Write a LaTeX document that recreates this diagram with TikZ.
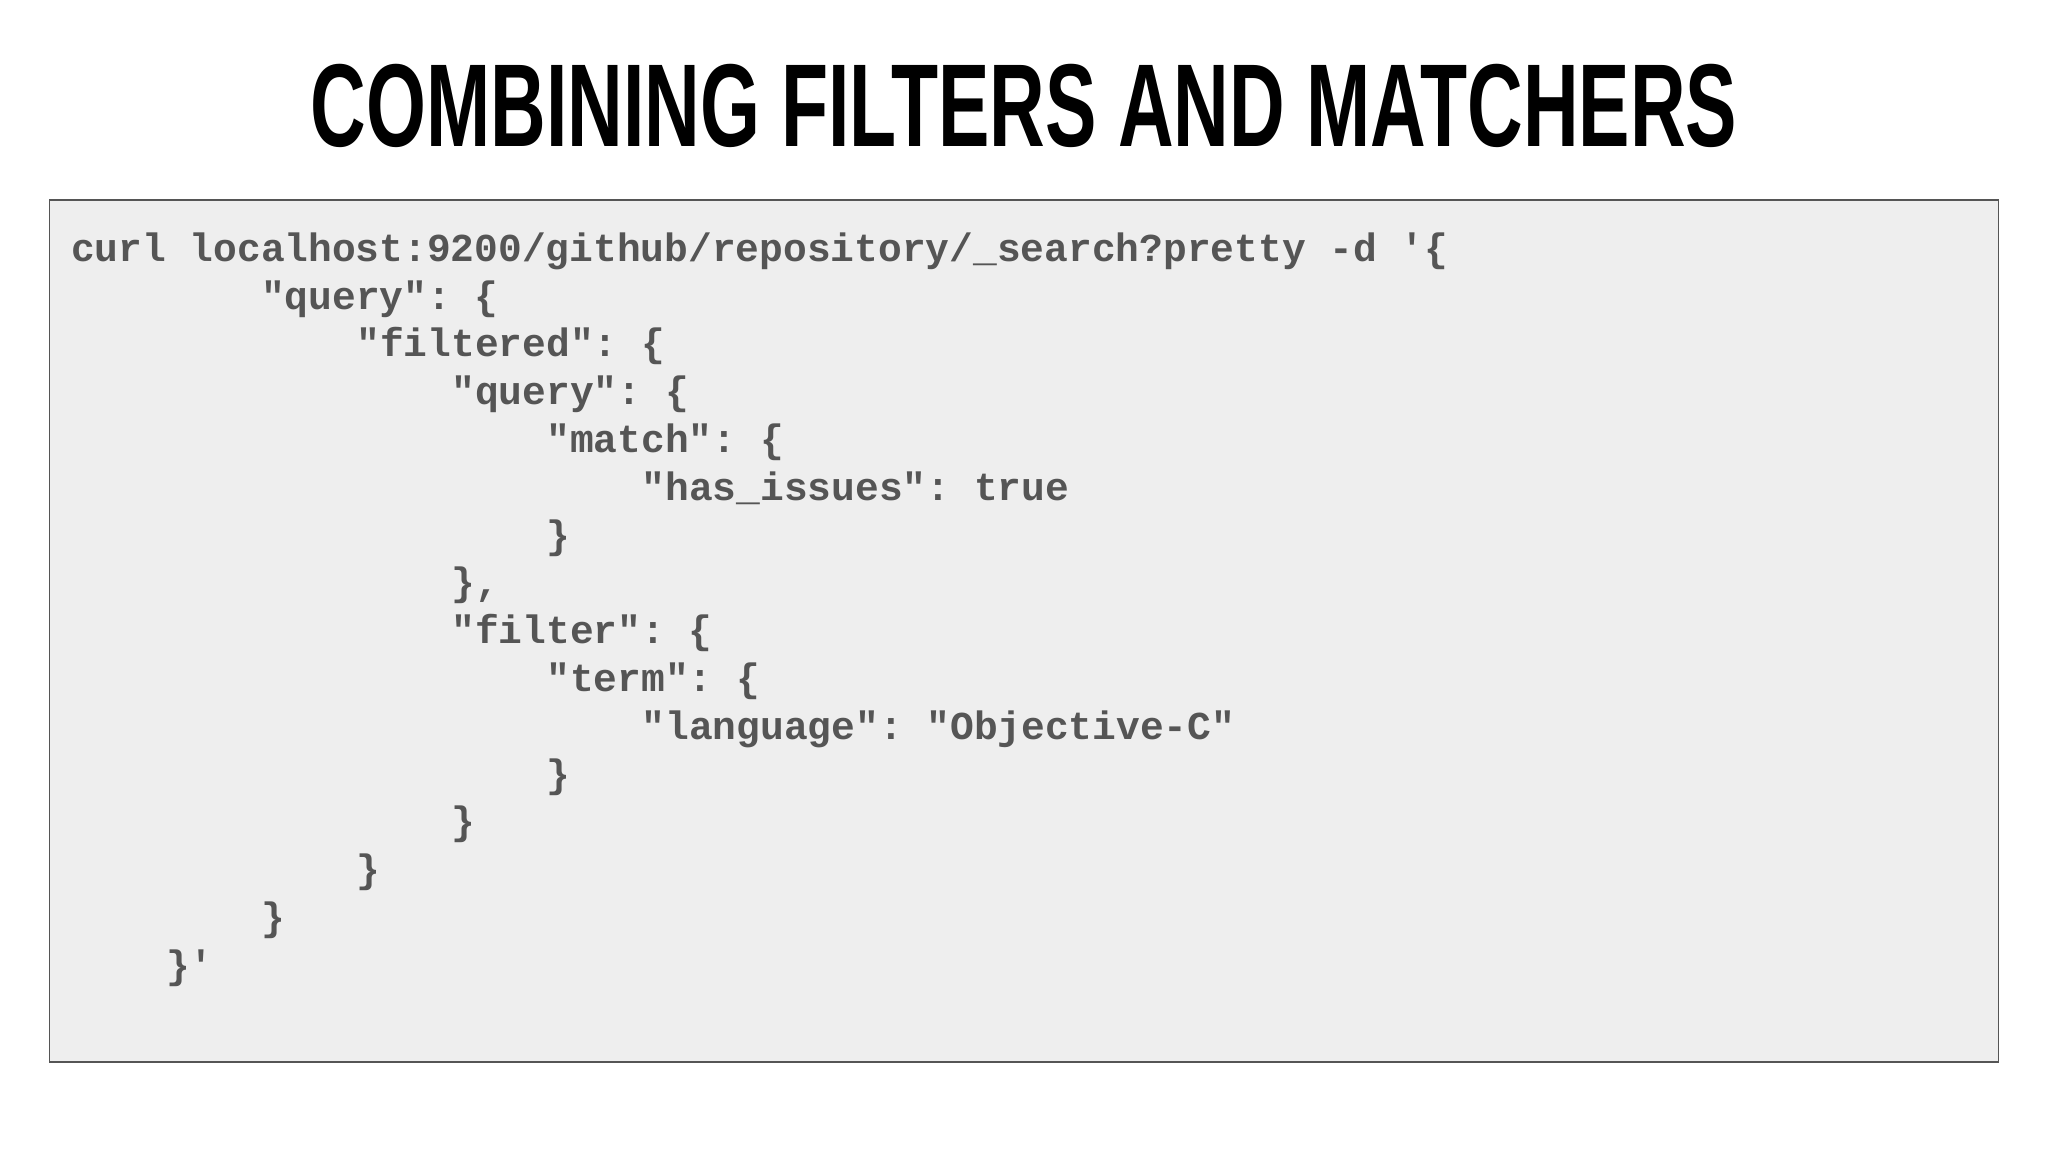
\documentclass[tikz,border=0pt]{standalone}
\usepackage{fontspec}
\setmainfont{Liberation Sans}
\setmonofont{Liberation Mono}
\usepackage{graphicx}
\definecolor{codegray}{HTML}{555555}
\definecolor{boxfill}{HTML}{EEEEEE}
\begin{document}
\begin{tikzpicture}[x=1pt,y=1pt,
  codeline/.style={anchor=base west,inner sep=0pt,text=codegray,font=\ttfamily\bfseries\fontsize{15.15}{18}\selectfont}]
\useasboundingbox (0,0) rectangle (784,-441);
\fill[white] (0,0) rectangle (784,-441);
\draw[codegray,fill=boxfill,line width=0.6pt] (19,-76.5) rectangle (765,-406.5);
\node[anchor=base,inner sep=0pt] (title) at (392,-56) {\resizebox{546pt}{31.5pt}{\bfseries COMBINING FILTERS AND MATCHERS}};
\def\cx#1{27+9.1*#1}
\node[codeline] (l1) at ({\cx{0}},-100) {curl localhost:9200/github/repository/\_search?pretty -d '\{};
\node[codeline] (l2) at ({\cx{8}},-118.3) {"query": \{};
\node[codeline] (l3) at ({\cx{12}},-136.6) {"filtered": \{};
\node[codeline] (l4) at ({\cx{16}},-154.9) {"query": \{};
\node[codeline] (l5) at ({\cx{20}},-173.2) {"match": \{};
\node[codeline] (l6) at ({\cx{24}},-191.5) {"has\_issues": true};
\node[codeline] (l7) at ({\cx{20}},-209.8) {\}};
\node[codeline] (l8) at ({\cx{16}},-228.1) {\},};
\node[codeline] (l9) at ({\cx{16}},-246.4) {"filter": \{};
\node[codeline] (l10) at ({\cx{20}},-264.7) {"term": \{};
\node[codeline] (l11) at ({\cx{24}},-283.0) {"language": "Objective-C"};
\node[codeline] (l12) at ({\cx{20}},-301.3) {\}};
\node[codeline] (l13) at ({\cx{16}},-319.6) {\}};
\node[codeline] (l14) at ({\cx{12}},-337.9) {\}};
\node[codeline] (l15) at ({\cx{8}},-356.2) {\}};
\node[codeline] (l16) at ({\cx{4}},-374.5) {\}'};
\end{tikzpicture}
\end{document}
